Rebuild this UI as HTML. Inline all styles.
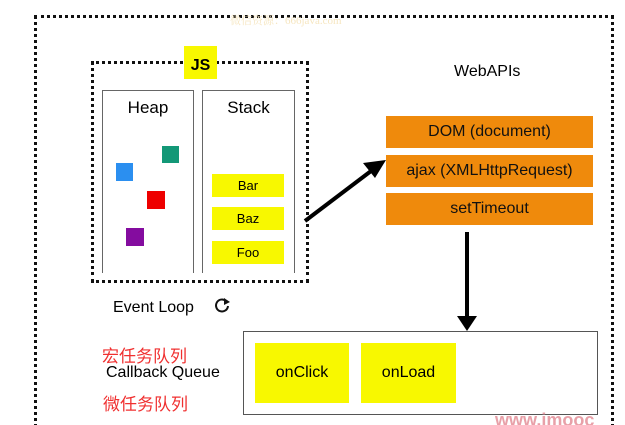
<!DOCTYPE html>
<html style="width:625px;height:425px;overflow:hidden;"><head><meta charset="utf-8"><style>
html,body{margin:0;padding:0;}
body{width:625px;height:425px;background:#fff;position:relative;overflow:hidden;font-family:"Liberation Sans","Noto Sans CJK SC",sans-serif;}
.a{position:absolute;box-sizing:border-box;}
.t{display:flex;align-items:center;justify-content:center;}
.y{background:#f8f800;}
.o{background:#ef8a0c;font-size:16px;color:#111;}
.red{color:#f03030;font-size:17px;}
</style></head><body>
<div class="a" style="left:34px;top:15px;width:580px;height:420px;border:3px dotted #111;border-bottom:none;"></div>
<div class="a t" style="left:230px;top:12px;font-size:11px;color:#f6e6c0;font-family:'Liberation Serif','Noto Serif CJK SC',serif;">微信资源：666java.com</div>
<div class="a" style="left:91px;top:61px;width:218px;height:222px;border:3px dotted #111;"></div>
<div class="a t y" style="left:184px;top:46px;width:33px;height:33px;font-size:16px;font-weight:bold;padding-top:6px;">JS</div>
<div class="a" style="left:102px;top:90px;width:92px;height:183px;border:1.5px solid #666;border-bottom:none;"></div>
<div class="a" style="left:202px;top:90px;width:93px;height:183px;border:1.5px solid #666;border-bottom:none;"></div>
<div class="a t" style="left:102px;top:98px;width:92px;font-size:17px;">Heap</div>
<div class="a t" style="left:202px;top:98px;width:93px;font-size:17px;">Stack</div>
<div class="a" style="left:162px;top:146px;width:17px;height:17px;background:#139877;"></div>
<div class="a" style="left:116px;top:163px;width:17px;height:18px;background:#2b8ff0;"></div>
<div class="a" style="left:147px;top:191px;width:18px;height:18px;background:#ee0000;"></div>
<div class="a" style="left:126px;top:228px;width:18px;height:18px;background:#840c9f;"></div>
<div class="a t y" style="left:212px;top:174px;width:72px;height:23px;font-size:13px;">Bar</div>
<div class="a t y" style="left:212px;top:207px;width:72px;height:23px;font-size:13px;">Baz</div>
<div class="a t y" style="left:212px;top:241px;width:72px;height:23px;font-size:13px;">Foo</div>
<div class="a" style="left:454px;top:63px;font-size:16px;">WebAPIs</div>
<div class="a t o" style="left:386px;top:116px;width:207px;height:32px;">DOM (document)</div>
<div class="a t o" style="left:386px;top:155px;width:207px;height:32px;">ajax (XMLHttpRequest)</div>
<div class="a t o" style="left:386px;top:193px;width:207px;height:32px;">setTimeout</div>
<svg class="a" style="left:0;top:0" width="625" height="425">
<line x1="305" y1="221" x2="375" y2="168" stroke="#000" stroke-width="4"/>
<polygon points="386,160 363,163 375,178" fill="#000"/>
<line x1="467" y1="232" x2="467" y2="318" stroke="#000" stroke-width="4"/>
<polygon points="457,316 477,316 467,331" fill="#000"/>
<path d="M226 301 a6 6 0 1 0 2 5" fill="none" stroke="#111" stroke-width="2"/>
<polygon points="224,298 230,302 224,305" fill="#111"/>
</svg>
<div class="a" style="left:113px;top:299px;font-size:16px;">Event Loop</div>
<div class="a" style="left:243px;top:331px;width:355px;height:84px;border:1.5px solid #555;"></div>
<div class="a t y" style="left:255px;top:343px;width:94px;height:60px;font-size:16px;">onClick</div>
<div class="a t y" style="left:361px;top:343px;width:95px;height:60px;font-size:16px;">onLoad</div>
<div class="a red" style="left:102px;top:342px;">宏任务队列</div>
<div class="a" style="left:106px;top:364px;font-size:16px;">Callback Queue</div>
<div class="a red" style="left:103px;top:390px;">微任务队列</div>
<div class="a" style="left:495px;top:410px;font-size:18px;color:#e8a0a8;font-weight:bold;">www.imooc</div>
</body></html>
